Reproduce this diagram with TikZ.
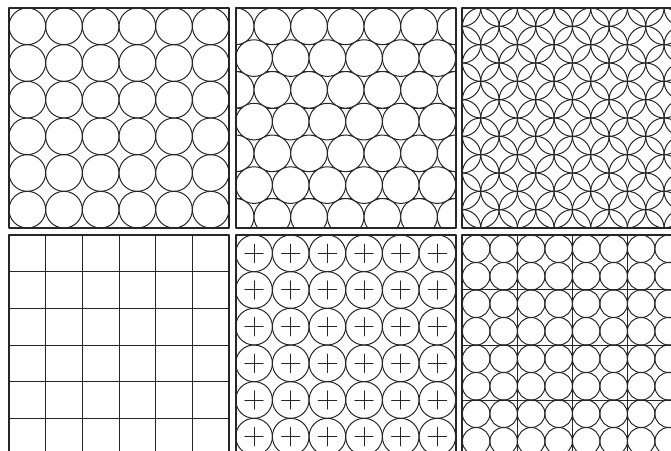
\documentclass[tikz,border=0pt]{standalone}
\tikzset{
  frame/.style={line width=1.9bp, draw=black!85},
  pat/.style={line width=1bp, draw=black!85},
  patfill/.style={pat, fill=white},
}
\begin{document}
\begin{tikzpicture}[x=1bp, y=-1bp, declare function={r=18.3333; q=13.75; h=31.7543;}, line join=round, line cap=round]
	\clip (0,0) rectangle (671,451);
	
	\coordinate (P1) at (9,8);
	\coordinate (P2) at (235.7,8);
	\coordinate (P3) at (462.4,8);
	\coordinate (P4) at (9,235);
	\coordinate (P5) at (235.7,235);
	\coordinate (P6) at (462.4,235);
	
	% square packing
	\begin{scope}[shift={(P1)}]
		\clip (0,0) rectangle (220,220);
		\foreach \i in {0,...,5} { \foreach \j in {0,...,5} { \draw[pat] ({r+2*r*\i},{r+2*r*\j}) circle[radius=r]; } }
	\end{scope}
	
	% hexagonal packing
	\begin{scope}[shift={(P2)}]
		\clip (0,0) rectangle (220,220);
		\foreach \k in {0,2,4,6} { \draw[pat] (0,{\k*h}) -- (220,{\k*h}) (0,{2*r+\k*h}) -- (220,{2*r+\k*h}); }
		\foreach \k in {0,2,4,6} { \foreach \i in {0,...,6} { \draw[patfill] ({2*r*\i},{r+\k*h}) circle[radius=r]; } }
		\foreach \k in {1,3,5} { \foreach \i in {0,...,5} { \draw[patfill] ({r+2*r*\i},{r+\k*h}) circle[radius=r]; } }
	\end{scope}
	
	% overlapping circles
	\begin{scope}[shift={(P3)}]
		\clip (0,0) rectangle (220,220);
		\foreach \i in {0,...,5} { \foreach \j in {0,...,5} { \draw[pat] ({r+2*r*\i},{r+2*r*\j}) circle[radius=r]; } }
		\foreach \i in {0,...,6} { \foreach \j in {0,...,6} { \draw[pat] ({2*r*\i},{2*r*\j}) circle[radius=r]; } }
	\end{scope}
	
	% square grid
	\begin{scope}[shift={(P4)}]
		\foreach \i in {1,...,5} { \draw[pat] ({2*r*\i},0) -- ({2*r*\i},220) (0,{2*r*\i}) -- (220,{2*r*\i}); }
	\end{scope}
	
	% circles with crosses
	\begin{scope}[shift={(P5)}]
		\clip (0,0) rectangle (220,220);
		\foreach \i in {0,...,5} { \foreach \j in {0,...,5} {
			\coordinate (c) at ({r+2*r*\i},{r+2*r*\j});
			\draw[pat] (c) circle[radius=r];
			\draw[pat] (c) +({-r/2},0) -- +({r/2},0) (c) +(0,{-r/2}) -- +(0,{r/2});
		} }
	\end{scope}
	
	% small circles on a coarse grid
	\begin{scope}[shift={(P6)}]
		\clip (0,0) rectangle (220,220);
		\foreach \i in {1,2,3} { \draw[pat] ({55*\i},0) -- ({55*\i},220) (0,{55*\i}) -- (220,{55*\i}); }
		\foreach \i in {0,...,7} { \foreach \j in {0,...,7} { \draw[pat] ({q+2*q*\i},{q+2*q*\j}) circle[radius=q]; } }
	\end{scope}
	
	\foreach \p in {P1,P2,P3,P4,P5,P6} { \draw[frame] (\p) rectangle ++(220,220); }
\end{tikzpicture}
\end{document}
